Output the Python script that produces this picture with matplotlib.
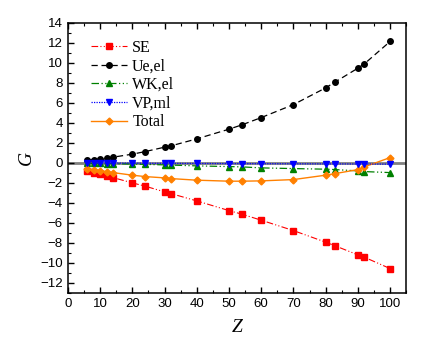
import matplotlib
matplotlib.use("Agg")
import matplotlib.pyplot as plt
from matplotlib.ticker import MultipleLocator

Z = [6, 8, 10, 12, 14, 20, 24, 30, 32, 40, 50, 54, 60, 70, 80, 83, 90, 92, 100]
SE = [-0.80, -0.97, -1.13, -1.27, -1.47, -2.00, -2.33, -2.90, -3.07, -3.80,
      -4.77, -5.13, -5.73, -6.77, -7.93, -8.30, -9.20, -9.43, -10.57]
Ue = [0.27, 0.33, 0.37, 0.47, 0.57, 0.87, 1.13, 1.57, 1.70, 2.40,
      3.37, 3.80, 4.53, 5.83, 7.50, 8.10, 9.47, 9.90, 12.14]
WK = [-0.04, -0.05, -0.06, -0.07, -0.08, -0.12, -0.15, -0.20, -0.22, -0.30,
      -0.37, -0.40, -0.50, -0.57, -0.63, -0.67, -0.80, -0.87, -0.97]
VP = [-0.01, -0.01, -0.02, -0.02, -0.02, -0.03, -0.04, -0.05, -0.05, -0.06,
      -0.07, -0.08, -0.08, -0.09, -0.10, -0.10, -0.11, -0.11, -0.13]
Total = [-0.57, -0.67, -0.77, -0.87, -0.97, -1.23, -1.37, -1.50, -1.57, -1.73,
         -1.83, -1.83, -1.80, -1.67, -1.23, -1.07, -0.67, -0.40, 0.53]

fig = plt.figure(figsize=(4.24, 3.47), dpi=100)
ax = fig.add_axes([0.160, 0.156, 0.798, 0.778])

ax.axhline(0, color='#808080', lw=2, zorder=1)

ms = 4
ax.plot(Z, SE, color='#ff0000', ls=(0, (6, 2, 1, 2, 1, 2)), lw=0.8, marker='s', ms=ms,
        label='SE', zorder=3)
ax.plot(Z, Ue, color='black', ls=(0, (5, 3)), lw=0.9, marker='o', ms=ms,
        label='Ue,el', zorder=3)
ax.plot(Z, WK, color='#008000', ls=(0, (6, 2, 1, 2, 1, 2)), lw=0.9, marker='^', ms=ms + 0.5,
        label='WK,el', zorder=3)
ax.plot(Z, VP, color='#0000ff', ls=(0, (1, 1)), lw=0.9, marker='v', ms=ms + 0.5,
        label='VP,ml', zorder=4)
ax.plot(Z, Total, color='#ff8000', ls='-', lw=1.0, marker='D', ms=ms - 0.5,
        label='Total', zorder=3)

ax.set_xlim(0, 105)
ax.set_ylim(-13, 14)
ax.xaxis.set_major_locator(MultipleLocator(10))
ax.xaxis.set_minor_locator(MultipleLocator(5))
ax.yaxis.set_major_locator(MultipleLocator(2))
ax.yaxis.set_minor_locator(MultipleLocator(1))
ax.tick_params(axis='both', which='both', direction='out', labelsize=9.5)
ax.tick_params(which='major', length=4, width=1)
ax.tick_params(which='minor', length=2.5, width=0.8)
ax.tick_params(top=True, which='both', direction='in')
ax.tick_params(axis='x', which='both', bottom=True)
for lab in ax.get_xticklabels() + ax.get_yticklabels():
    lab.set_fontfamily('Liberation Sans')
for sp in ax.spines.values():
    sp.set_linewidth(1.1)

ax.set_xlabel('Z', fontfamily='Liberation Serif', fontstyle='italic', fontsize=14, labelpad=7)
ax.set_ylabel('G', fontfamily='Liberation Serif', fontstyle='italic', fontsize=14, labelpad=4)

leg = ax.legend(loc='upper left', bbox_to_anchor=(0.025, 0.99), frameon=False,
                prop={'family': 'Liberation Serif', 'size': 11.5}, handlelength=2.3,
                handletextpad=0.3, labelspacing=0.16)

fig.savefig('out.png', dpi=100)
